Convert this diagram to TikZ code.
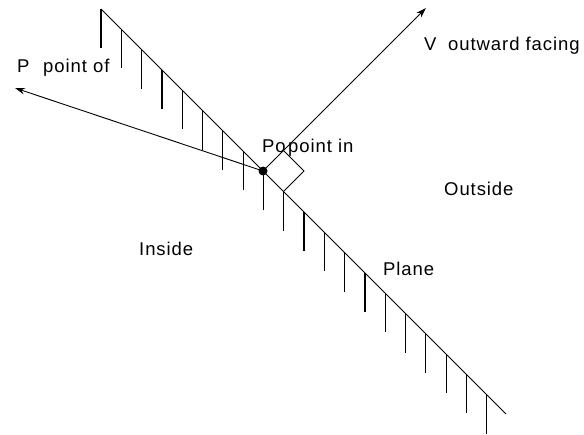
\documentclass[tikz,border=0pt]{standalone}
\usepackage{fontspec}
\setmainfont{Liberation Sans}[LetterSpace=5]
\usetikzlibrary{arrows.meta,calc}
\begin{document}
\begin{tikzpicture}[x=1pt,y=-1pt,
  lbl/.style={anchor=base west,inner sep=0pt,font=\fontsize{18.5}{20}\selectfont},
  planeline/.style={line width=1pt},
  hatch/.style={line width=1.2pt},
  vec/.style={line width=0.9pt,-{Stealth[length=10pt,width=6.5pt]}}]
\useasboundingbox[fill=white] (0,0) rectangle (584,434);
% plane
\coordinate (A) at (101,9);
\coordinate (B) at (506,414);
\draw[planeline] (A) -- (B);
\foreach \k in {0,...,19}{
  \pgfmathsetmacro{\xx}{101+20.3*\k}
  \pgfmathsetmacro{\yy}{9+20.3*\k}
  \draw[hatch] (\xx,\yy) -- (\xx,\yy+39);
}
% point on plane
\coordinate (Po) at (263,171);
\coordinate (Ptip) at (15,88);
\coordinate (Vtip) at (426,8);
\draw[vec] (Po) -- (Ptip);
\draw[vec] (Po) -- (Vtip);
\draw[line width=0.9pt] ($(Po)+(20.5,20.5)$) -- ($(Po)+(41,0)$) -- ($(Po)+(20.5,-20.5)$);
\fill (Po) circle (4.5pt);
% labels
\node[lbl] (lP) at (17,72) {P};
\node[lbl] (lPof) at (43,72) {point of};
\node[lbl] (lV) at (424,50) {V};
\node[lbl] (lVof) at (448,50) {outward facing};
\node[lbl] (lPo) at (262,152) {Po};
\node[lbl] (lPin) at (288,152) {point in};
\node[lbl] (lOut) at (444,195) {Outside};
\node[lbl] (lIn) at (139,255) {Inside};
\node[lbl] (lPl) at (383,275) {Plane};
\end{tikzpicture}
\end{document}
